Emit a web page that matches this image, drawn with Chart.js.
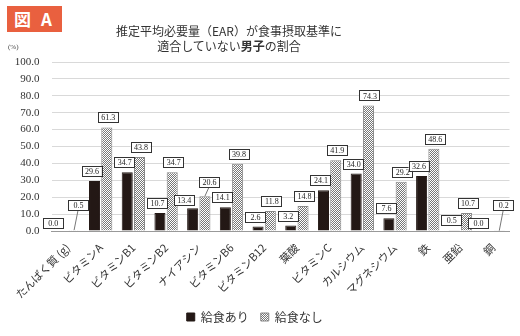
<!DOCTYPE html>
<html lang="ja">
<head>
<meta charset="utf-8">
<script src="https://cdn.jsdelivr.net/npm/chart.js@4.4.1/dist/chart.umd.min.js"></script>
<style>
  body { margin: 0; background: #fff; }
  #wrap { position: relative; width: 520px; height: 336px; font-family: "Noto Sans CJK JP", sans-serif; color: #333; }
  #badge { position: absolute; left: 7px; top: 6px; width: 55px; height: 26px; background: #e9603f; color: #fff;
           font: bold 17px/26px "Noto Sans CJK JP", sans-serif; text-align: center; letter-spacing: 3px; }
  #title { position: absolute; left: 0; top: 24px; width: 458px; text-align: center; font-size: 12px; line-height: 14.5px; }
  #unit { position: absolute; left: 8px; top: 43px; font: 7px "Liberation Serif", serif; color: #444; }
  canvas { position: absolute; left: 0; top: 0; }
</style>
</head>
<body>
<div id="wrap">
  <canvas id="chart" width="520" height="336"></canvas>
  <div id="badge">図 A</div>
  <div id="title">推定平均必要量（EAR）が食事摂取基準に<br>適合していない<b>男子</b>の割合</div>
  <div id="unit">(%)</div>
</div>
<script>
// 栄養素
const categories = ['たんぱく質 (g)', 'ビタミンA', 'ビタミンB1', 'ビタミンB2', 'ナイアシン', 'ビタミンB6', 'ビタミンB12',
  '葉酸', 'ビタミンC', 'カルシウム', 'マグネシウム', '鉄', '亜鉛', '銅'];
const withLunch = [0.0, 29.6, 34.7, 10.7, 13.4, 14.1, 2.6, 3.2, 24.1, 34.0, 7.6, 32.6, 0.5, 0.0];
const withoutLunch = [0.5, 61.3, 43.8, 34.7, 20.6, 39.8, 11.8, 14.8, 41.9, 74.3, 29.2, 48.6, 10.7, 0.2];
const seriesNames = ['給食あり', '給食なし'];
const yTicks = [0, 10, 20, 30, 40, 50, 60, 70, 80, 90, 100];

// 網掛けパターン
const makePattern = () => {
  const c = document.createElement('canvas');
  c.width = 4; c.height = 4;
  const g = c.getContext('2d');
  g.fillStyle = '#fff';
  g.fillRect(0, 0, 4, 4);
  g.fillStyle = '#777';
  [[1, 0], [0, 1], [2, 1], [1, 2], [3, 2], [2, 3], [0, 3], [3, 0]].forEach(([x, y]) => g.fillRect(x, y, 1, 1));
  return g.createPattern(c, 'repeat');
};
const hatch = makePattern();

// データラベル(枠付き)
const boxLabels = {
  id: 'boxLabels',
  afterDatasetsDraw(chart) {
    const ctx = chart.ctx;
    const m0 = chart.getDatasetMeta(0);
    const m1 = chart.getDatasetMeta(1);
    const w = 20, h = 10;
    const drawBox = (cx, top, text) => {
      ctx.fillStyle = '#fff';
      ctx.fillRect(cx - w / 2, top, w, h);
      ctx.strokeStyle = '#333';
      ctx.lineWidth = 1;
      ctx.strokeRect(Math.round(cx - w / 2) + 0.5, Math.round(top) + 0.5, w, h);
      ctx.fillStyle = '#222';
      ctx.fillText(text, cx + 0.5, top + h / 2 + 1);
    };
    ctx.save();
    ctx.font = '8px "Liberation Serif", serif';
    ctx.textAlign = 'center';
    ctx.textBaseline = 'middle';
    categories.forEach((c, i) => {
      const b = m0.data[i], p = m1.data[i];
      let bx = b.x - 3, bTop = b.y - 5 - h;
      let px = p.x + 1, pTop = p.y - 5 - h;
      if (pTop + h > bTop - 3) {
        bx = b.x - 9;
        bTop = b.y - 3 - h;
        px = p.x + 4;
        pTop = bTop - 8 - h;
        ctx.strokeStyle = '#777';
        ctx.beginPath();
        ctx.moveTo(p.x, p.y);
        ctx.lineTo(px, pTop + h);
        ctx.stroke();
      }
      drawBox(bx, bTop, withLunch[i].toFixed(1));
      drawBox(px, pTop, withoutLunch[i].toFixed(1));
    });
    ctx.restore();
  }
};

new Chart(document.getElementById('chart'), {
  type: 'bar',
  data: {
    labels: categories,
    datasets: [{
      label: seriesNames[0],
      data: withLunch,
      backgroundColor: '#231815',
      borderColor: '#231815',
      borderWidth: 1,
    }, {
      label: seriesNames[1],
      data: withoutLunch,
      backgroundColor: hatch,
      borderColor: '#888',
      borderWidth: 1,
    }],
  },
  options: {
    responsive: false,
    animation: false,
    devicePixelRatio: 1,
    layout: { padding: { top: 62, left: 0, right: 10.5, bottom: 3 } },
    datasets: { bar: { categoryPercentage: 0.75, barPercentage: 0.9 } },
    plugins: {
      title: { display: false },
      tooltip: { enabled: false },
      legend: {
        position: 'bottom',
        labels: {
          boxWidth: 8, boxHeight: 8, padding: 12,
          color: '#333',
          font: { family: '"Noto Sans CJK JP", sans-serif', size: 12 },
        },
      },
    },
    scales: {
      x: {
        grid: { display: false },
        border: { color: '#999' },
        afterFit: (scale) => { scale.height = 68; },
        ticks: {
          autoSkip: false, minRotation: 45, maxRotation: 45, padding: 2,
          color: '#333',
          font: { family: '"Noto Sans CJK JP", sans-serif', size: 11 },
        },
      },
      y: {
        min: 0, max: 100,
        afterFit: (scale) => { scale.width = 51.6; },
        afterBuildTicks: (scale) => { scale.ticks = yTicks.map(v => ({ value: v })); },
        border: { display: false },
        grid: { color: '#d9d9d9', drawTicks: false },
        ticks: {
          padding: 12,
          color: '#333',
          font: { family: '"Liberation Serif", serif', size: 11 },
          callback: (v) => v.toFixed(1),
        },
      },
    },
  },
  plugins: [boxLabels],
});
</script>
</body>
</html>
